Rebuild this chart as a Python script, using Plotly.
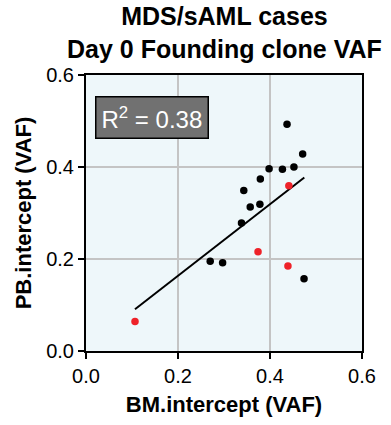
import plotly.graph_objects as go

# Data
black_x = [0.437, 0.471, 0.398, 0.427, 0.452, 0.379, 0.343, 0.357, 0.378, 0.338, 0.270, 0.297, 0.474]
black_y = [0.493, 0.428, 0.396, 0.395, 0.400, 0.374, 0.349, 0.313, 0.319, 0.278, 0.195, 0.192, 0.157]
red_x = [0.441, 0.374, 0.439, 0.1065]
red_y = [0.359, 0.216, 0.185, 0.064]
fit_x = [0.1065, 0.4746]
fit_y = [0.0906, 0.377]
r2_text = "R<sup>2</sup> = 0.38"
title_text = "<b>MDS/sAML cases<br>Day 0 Founding clone VAF</b>"
tick_vals = [0.0, 0.2, 0.4, 0.6]
tick_text = ["0.0", "0.2", "0.4", "0.6"]

FONT = "Liberation Sans, Arial, sans-serif"

fig = go.Figure()
fig.add_trace(go.Scatter(x=fit_x, y=fit_y, mode="lines",
                         line=dict(color="black", width=2), hoverinfo="skip"))
fig.add_trace(go.Scatter(x=black_x, y=black_y, mode="markers",
                         marker=dict(color="black", size=7.5)))
fig.add_trace(go.Scatter(x=red_x, y=red_y, mode="markers",
                         marker=dict(color="#ee2229", size=7.5)))

axis_common = dict(
    range=[0, 0.6], tickvals=tick_vals, ticktext=tick_text,
    showgrid=True, gridcolor="#c4c4c4", gridwidth=1.5,
    showline=True, linecolor="black", linewidth=2, mirror=True,
    ticks="outside", ticklen=6, tickwidth=2, tickcolor="black",
    tickfont=dict(family=FONT, size=20, color="black"),
    zeroline=False,
)

fig.update_layout(
    width=391, height=425,
    margin=dict(l=86, r=29, t=75, b=74),
    plot_bgcolor="#eef7fa", paper_bgcolor="white",
    showlegend=False,
    xaxis=dict(axis_common, title=dict(text="<b>BM.intercept (VAF)</b>",
                                       font=dict(family=FONT, size=22, color="black"),
                                       standoff=11)),
    yaxis=dict(axis_common, title=dict(text="<b>PB.intercept (VAF)</b>",
                                       font=dict(family=FONT, size=22, color="black"),
                                       standoff=8)),
)

fig.add_annotation(x=0.5, y=1.27, xref="paper", yref="paper", xanchor="center", yanchor="top",
                   text=title_text, showarrow=False, align="center",
                   font=dict(family=FONT, size=25, color="black"))

fig.add_annotation(x=0.0196, y=0.507, xref="x", yref="y", xanchor="left", yanchor="middle",
                   text=r2_text, showarrow=False,
                   font=dict(family=FONT, size=24, color="white"),
                   bgcolor="#717171", bordercolor="black", borderwidth=1.5, borderpad=5)

fig.write_html("out.html")
